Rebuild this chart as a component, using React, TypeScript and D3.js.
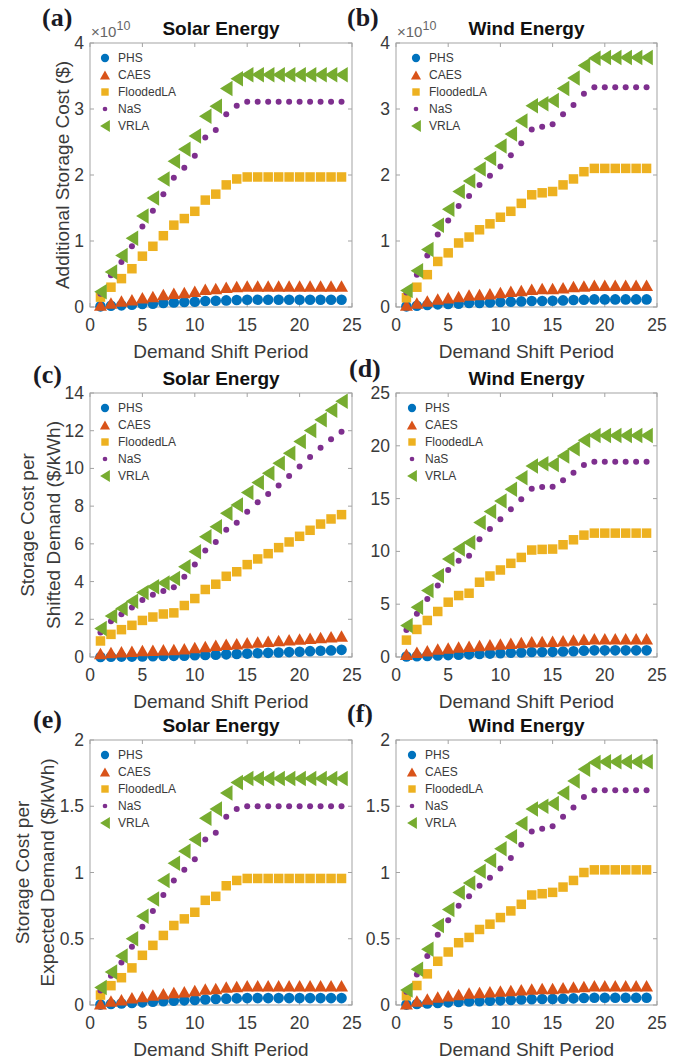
import React from "react";
import * as d3 from "d3";

// ---------- DATA ----------
const periods = [1, 2, 3, 4, 5, 6, 7, 8, 9, 10, 11, 12, 13, 14, 15, 16, 17, 18, 19, 20, 21, 22, 23, 24];
const seriesNames = ["PHS", "CAES", "FloodedLA", "NaS", "VRLA"];
const xTicks = [0, 5, 10, 15, 20, 25];

// (a) Solar – Additional storage cost (x1e10 $)
const solarCostPHS = [0.01, 0.02, 0.025, 0.035, 0.045, 0.05, 0.06, 0.07, 0.075, 0.08, 0.09, 0.095, 0.1, 0.105, 0.11, 0.11, 0.11, 0.11, 0.11, 0.11, 0.11, 0.11, 0.11, 0.11];
const solarCostCAES = [0.03, 0.06, 0.09, 0.11, 0.14, 0.16, 0.19, 0.21, 0.22, 0.24, 0.27, 0.28, 0.3, 0.31, 0.32, 0.32, 0.32, 0.32, 0.32, 0.32, 0.32, 0.32, 0.32, 0.32];
const solarCostFlooded = [0.15, 0.3, 0.43, 0.58, 0.77, 0.92, 1.08, 1.24, 1.34, 1.45, 1.62, 1.71, 1.85, 1.94, 1.97, 1.97, 1.97, 1.97, 1.97, 1.97, 1.97, 1.97, 1.97, 1.97];
const solarCostNaS = [0.2, 0.48, 0.68, 0.92, 1.22, 1.46, 1.71, 1.96, 2.11, 2.29, 2.57, 2.68, 2.92, 3.05, 3.11, 3.11, 3.11, 3.11, 3.11, 3.11, 3.11, 3.11, 3.11, 3.11];
const solarCostVRLA = [0.23, 0.53, 0.78, 1.04, 1.38, 1.65, 1.94, 2.21, 2.39, 2.59, 2.89, 3.04, 3.31, 3.46, 3.52, 3.52, 3.52, 3.52, 3.52, 3.52, 3.52, 3.52, 3.52, 3.52];

// (b) Wind – Additional storage cost (x1e10 $)
const windCostPHS = [0.01, 0.02, 0.03, 0.04, 0.045, 0.05, 0.06, 0.06, 0.07, 0.075, 0.08, 0.085, 0.09, 0.09, 0.095, 0.1, 0.105, 0.11, 0.115, 0.115, 0.115, 0.115, 0.115, 0.115];
const windCostCAES = [0.03, 0.06, 0.09, 0.12, 0.14, 0.16, 0.18, 0.19, 0.2, 0.22, 0.24, 0.25, 0.27, 0.28, 0.28, 0.29, 0.31, 0.32, 0.33, 0.33, 0.33, 0.33, 0.33, 0.33];
const windCostFlooded = [0.14, 0.3, 0.49, 0.69, 0.82, 0.97, 1.06, 1.17, 1.26, 1.36, 1.45, 1.57, 1.7, 1.73, 1.75, 1.85, 1.94, 2.05, 2.1, 2.1, 2.1, 2.1, 2.1, 2.1];
const windCostNaS = [0.22, 0.49, 0.78, 1.1, 1.31, 1.53, 1.68, 1.85, 1.99, 2.13, 2.3, 2.48, 2.69, 2.73, 2.77, 2.92, 3.06, 3.23, 3.33, 3.33, 3.33, 3.33, 3.33, 3.33];
const windCostVRLA = [0.25, 0.55, 0.87, 1.24, 1.48, 1.75, 1.91, 2.09, 2.25, 2.44, 2.62, 2.82, 3.05, 3.08, 3.13, 3.31, 3.47, 3.66, 3.77, 3.78, 3.78, 3.78, 3.78, 3.78];

// (c) Solar – Storage cost per shifted demand ($/kWh)
const solarShiftPHS = [0.0, 0.01, 0.02, 0.02, 0.03, 0.04, 0.05, 0.06, 0.07, 0.09, 0.11, 0.12, 0.14, 0.16, 0.18, 0.2, 0.22, 0.24, 0.26, 0.28, 0.31, 0.33, 0.35, 0.38];
const solarShiftCAES = [0.18, 0.24, 0.28, 0.3, 0.34, 0.36, 0.38, 0.4, 0.44, 0.5, 0.56, 0.62, 0.67, 0.7, 0.76, 0.8, 0.84, 0.88, 0.92, 0.96, 1.0, 1.04, 1.08, 1.12];
const solarShiftFlooded = [0.85, 1.2, 1.45, 1.68, 1.94, 2.12, 2.28, 2.34, 2.73, 3.1, 3.58, 3.86, 4.28, 4.52, 4.9, 5.2, 5.48, 5.8, 6.1, 6.4, 6.72, 7.05, 7.32, 7.55];
const solarShiftNaS = [1.3, 1.9, 2.27, 2.62, 3.02, 3.3, 3.5, 3.7, 4.26, 4.9, 5.65, 6.1, 6.75, 7.12, 7.7, 8.2, 8.65, 9.1, 9.6, 10.1, 10.6, 11.1, 11.55, 11.95];
const solarShiftVRLA = [1.51, 2.18, 2.57, 2.96, 3.42, 3.72, 3.93, 4.16, 4.78, 5.58, 6.38, 6.91, 7.62, 8.06, 8.72, 9.25, 9.75, 10.28, 10.81, 11.43, 12.01, 12.58, 13.08, 13.56];

// (d) Wind – Storage cost per shifted demand ($/kWh)
const windShiftPHS = [0.05, 0.07, 0.1, 0.14, 0.18, 0.22, 0.25, 0.29, 0.32, 0.36, 0.4, 0.43, 0.47, 0.48, 0.49, 0.52, 0.55, 0.6, 0.63, 0.63, 0.63, 0.63, 0.63, 0.63];
const windShiftCAES = [0.25, 0.45, 0.6, 0.75, 0.85, 0.95, 1.02, 1.1, 1.17, 1.24, 1.3, 1.37, 1.45, 1.47, 1.48, 1.53, 1.6, 1.67, 1.72, 1.72, 1.72, 1.72, 1.72, 1.72];
const windShiftFlooded = [1.6, 2.61, 3.46, 4.31, 5.19, 5.82, 6.04, 7.08, 7.67, 8.24, 8.87, 9.43, 10.13, 10.19, 10.22, 10.63, 11.1, 11.54, 11.73, 11.73, 11.73, 11.73, 11.73, 11.73];
const windShiftNaS = [2.55, 4.09, 5.5, 6.76, 8.24, 9.12, 9.59, 11.16, 12.11, 13.05, 13.99, 14.94, 15.94, 16.1, 16.13, 16.73, 17.45, 18.18, 18.49, 18.49, 18.49, 18.49, 18.49, 18.49];
const windShiftVRLA = [2.99, 4.72, 6.29, 7.7, 9.28, 10.22, 10.85, 12.74, 13.77, 14.78, 15.88, 16.98, 18.08, 18.3, 18.24, 19.03, 19.72, 20.53, 20.97, 20.97, 20.97, 20.97, 20.97, 20.97];

// (e) Solar – Storage cost per expected demand ($/kWh)
const solarExpPHS = [0.003, 0.007, 0.011, 0.015, 0.02, 0.024, 0.028, 0.032, 0.035, 0.038, 0.042, 0.045, 0.048, 0.05, 0.052, 0.052, 0.052, 0.052, 0.052, 0.052, 0.052, 0.052, 0.052, 0.052];
const solarExpCAES = [0.01, 0.03, 0.04, 0.055, 0.065, 0.075, 0.085, 0.095, 0.1, 0.11, 0.12, 0.125, 0.135, 0.14, 0.145, 0.145, 0.145, 0.145, 0.145, 0.145, 0.145, 0.145, 0.145, 0.145];
const solarExpFlooded = [0.075, 0.146, 0.206, 0.28, 0.375, 0.45, 0.525, 0.6, 0.65, 0.7, 0.79, 0.82, 0.9, 0.94, 0.955, 0.955, 0.955, 0.955, 0.955, 0.955, 0.955, 0.955, 0.955, 0.955];
const solarExpNaS = [0.11, 0.22, 0.32, 0.44, 0.59, 0.71, 0.83, 0.94, 1.02, 1.1, 1.25, 1.3, 1.42, 1.48, 1.5, 1.5, 1.5, 1.5, 1.5, 1.5, 1.5, 1.5, 1.5, 1.5];
const solarExpVRLA = [0.133, 0.25, 0.37, 0.5, 0.67, 0.8, 0.94, 1.07, 1.16, 1.25, 1.41, 1.48, 1.6, 1.68, 1.71, 1.71, 1.71, 1.71, 1.71, 1.71, 1.71, 1.71, 1.71, 1.71];

// (f) Wind – Storage cost per expected demand ($/kWh)
const windExpPHS = [0.003, 0.007, 0.012, 0.016, 0.02, 0.023, 0.026, 0.029, 0.032, 0.035, 0.038, 0.041, 0.044, 0.045, 0.046, 0.048, 0.05, 0.053, 0.055, 0.055, 0.055, 0.055, 0.055, 0.055];
const windExpCAES = [0.01, 0.03, 0.045, 0.06, 0.07, 0.08, 0.09, 0.095, 0.1, 0.105, 0.11, 0.115, 0.12, 0.125, 0.125, 0.13, 0.135, 0.14, 0.145, 0.145, 0.145, 0.145, 0.145, 0.145];
const windExpFlooded = [0.07, 0.147, 0.235, 0.33, 0.4, 0.47, 0.51, 0.57, 0.61, 0.66, 0.71, 0.76, 0.83, 0.84, 0.85, 0.89, 0.94, 1.0, 1.02, 1.02, 1.02, 1.02, 1.02, 1.02];
const windExpNaS = [0.1, 0.23, 0.37, 0.53, 0.64, 0.75, 0.82, 0.9, 0.96, 1.03, 1.11, 1.21, 1.31, 1.33, 1.35, 1.42, 1.49, 1.57, 1.62, 1.62, 1.62, 1.62, 1.62, 1.62];
const windExpVRLA = [0.114, 0.27, 0.42, 0.6, 0.72, 0.85, 0.92, 1.01, 1.09, 1.18, 1.27, 1.37, 1.48, 1.5, 1.52, 1.6, 1.69, 1.78, 1.83, 1.835, 1.835, 1.835, 1.835, 1.835];

const ticksCost = [0, 1, 2, 3, 4];
const ticksSolarShift = [0, 2, 4, 6, 8, 10, 12, 14];
const ticksWindShift = [0, 5, 10, 15, 20, 25];
const ticksExp = [0, 0.5, 1, 1.5, 2];

// ---------- STYLE / LAYOUT ----------
const COLORS: Record<string, string> = {
  PHS: "#0072BD",
  CAES: "#D95319",
  FloodedLA: "#EDB120",
  NaS: "#7E2F8E",
  VRLA: "#77AC30",
};
const SANS = "'Liberation Sans', Arial, Helvetica, sans-serif";
const SERIF = "'Liberation Serif', 'Times New Roman', serif";
const AXIS_COLOR = "#a3a3a3";
const TEXT_COLOR = "#3a3a3a";

const colX = [
  [90, 352],
  [396, 657],
];
const rowY = [
  [43, 307],
  [393, 657],
  [740, 1005],
];

type Panel = {
  label: string;
  col: number;
  row: number;
  title: string;
  yMax: number;
  yTicks: number[];
  yLabel: string[];
  yLabelX: number[];
  exponent: boolean;
  labelX: number;
  labelY: number;
  legendDx: number;
  data: number[][];
};

const panels: Panel[] = [
  { label: "(a)", col: 0, row: 0, title: "Solar Energy", yMax: 4, yTicks: ticksCost, yLabel: ["Additional Storage Cost ($)"], yLabelX: [62], exponent: true, labelX: 42, labelY: 26, legendDx: 15, data: [solarCostPHS, solarCostCAES, solarCostFlooded, solarCostNaS, solarCostVRLA] },
  { label: "(b)", col: 1, row: 0, title: "Wind Energy", yMax: 4, yTicks: ticksCost, yLabel: [], yLabelX: [], exponent: true, labelX: 347, labelY: 26, legendDx: 20, data: [windCostPHS, windCostCAES, windCostFlooded, windCostNaS, windCostVRLA] },
  { label: "(c)", col: 0, row: 1, title: "Solar Energy", yMax: 14, yTicks: ticksSolarShift, yLabel: ["Storage Cost per", "Shifted Demand ($/kWh)"], yLabelX: [27, 53], exponent: false, labelX: 33, labelY: 383, legendDx: 15, data: [solarShiftPHS, solarShiftCAES, solarShiftFlooded, solarShiftNaS, solarShiftVRLA] },
  { label: "(d)", col: 1, row: 1, title: "Wind Energy", yMax: 25, yTicks: ticksWindShift, yLabel: [], yLabelX: [], exponent: false, labelX: 349, labelY: 377, legendDx: 16, data: [windShiftPHS, windShiftCAES, windShiftFlooded, windShiftNaS, windShiftVRLA] },
  { label: "(e)", col: 0, row: 2, title: "Solar Energy", yMax: 2, yTicks: ticksExp, yLabel: ["Storage Cost per", "Expected Demand ($/kWh)"], yLabelX: [22, 47], exponent: false, labelX: 33, labelY: 728, legendDx: 15, data: [solarExpPHS, solarExpCAES, solarExpFlooded, solarExpNaS, solarExpVRLA] },
  { label: "(f)", col: 1, row: 2, title: "Wind Energy", yMax: 2, yTicks: ticksExp, yLabel: [], yLabelX: [], exponent: false, labelX: 347, labelY: 722, legendDx: 16, data: [windExpPHS, windExpCAES, windExpFlooded, windExpNaS, windExpVRLA] },
];

function Marker({ name, x, y, legend }: { name: string; x: number; y: number; legend?: boolean }) {
  const c = COLORS[name];
  const k = legend ? 0.78 : 1;
  if (name === "PHS") return <circle cx={x} cy={y} r={5.3 * k} fill={c} />;
  if (name === "NaS") return <circle cx={x} cy={y} r={3 * k} fill={c} />;
  if (name === "FloodedLA") {
    const s = 9.5 * k;
    return <rect x={x - s / 2} y={y - s / 2} width={s} height={s} fill={c} />;
  }
  if (name === "CAES") {
    const w = 13 * k, h = 11.5 * k;
    return <path d={`M${x},${y - h / 2}L${x + w / 2},${y + h / 2}L${x - w / 2},${y + h / 2}Z`} fill={c} />;
  }
  // VRLA left-pointing triangle
  const w = 12.5 * k, h = 15.5 * k;
  return <path d={`M${x - w / 2},${y}L${x + w / 2},${y - h / 2}L${x + w / 2},${y + h / 2}Z`} fill={c} />;
}

function PanelView({ p }: { p: Panel }) {
  const [x0, x1] = colX[p.col];
  const [y0, y1] = rowY[p.row];
  const xs = d3.scaleLinear().domain([0, 25]).range([x0, x1]);
  const ys = d3.scaleLinear().domain([0, p.yMax]).range([y1, y0]);
  const cx = (x0 + x1) / 2;
  const cy = (y0 + y1) / 2;
  const tl = 4;
  return (
    <g>
      <rect x={x0} y={y0} width={x1 - x0} height={y1 - y0} fill="#fff" stroke={AXIS_COLOR} strokeWidth={1} />
      {xTicks.map((t) => (
        <g key={"x" + t}>
          <line x1={xs(t)} x2={xs(t)} y1={y1} y2={y1 - tl} stroke={AXIS_COLOR} />
          <line x1={xs(t)} x2={xs(t)} y1={y0} y2={y0 + tl} stroke={AXIS_COLOR} />
          <text x={xs(t)} y={y1 + 24} textAnchor="middle" fontSize={17.5} fill={TEXT_COLOR} fontFamily={SANS}>
            {t}
          </text>
        </g>
      ))}
      {p.yTicks.map((t) => (
        <g key={"y" + t}>
          <line x1={x0} x2={x0 + tl} y1={ys(t)} y2={ys(t)} stroke={AXIS_COLOR} />
          <line x1={x1} x2={x1 - tl} y1={ys(t)} y2={ys(t)} stroke={AXIS_COLOR} />
          <text x={x0 - 6} y={ys(t) + 6} textAnchor="end" fontSize={17.5} fill={TEXT_COLOR} fontFamily={SANS}>
            {String(t)}
          </text>
        </g>
      ))}
      {p.exponent && (
        <text x={x0 + 1} y={y0 - 6} fontSize={15} fill="#666" fontFamily={SANS}>
          ×10
          <tspan dy={-7} fontSize={12.5}>10</tspan>
        </text>
      )}
      <text x={cx} y={y0 - 8} textAnchor="middle" fontSize={19} fontWeight="bold" fill="#111" fontFamily={SANS}>
        {p.title}
      </text>
      <text x={cx} y={y1 + 51} textAnchor="middle" fontSize={19} fill={TEXT_COLOR} fontFamily={SANS}>
        Demand Shift Period
      </text>
      {p.yLabel.map((s, i) => (
        <text
          key={s}
          transform={`translate(${p.yLabelX[i]},${cy}) rotate(-90)`}
          textAnchor="middle"
          dominantBaseline="central"
          fontSize={19}
          fill={TEXT_COLOR}
          fontFamily={SANS}
        >
          {s}
        </text>
      ))}
      <text x={p.labelX} y={p.labelY} fontSize={26} fontWeight="bold" fill="#1a1a24" fontFamily={SERIF}>
        {p.label}
      </text>
      {seriesNames.map((name, si) => (
        <g key={name}>
          {periods.map((d, i) => (
            <Marker key={i} name={name} x={xs(d)} y={ys(p.data[si][i])} />
          ))}
        </g>
      ))}
      {seriesNames.map((name, si) => {
        const ly = y0 + 15 + si * 17;
        const lx = x0 + p.legendDx;
        return (
          <g key={"lg" + name}>
            <Marker name={name} x={lx} y={ly} legend />
            <text x={lx + 13} y={ly} dominantBaseline="central" fontSize={12} fill={TEXT_COLOR} fontFamily={SANS}>
              {name}
            </text>
          </g>
        );
      })}
    </g>
  );
}

export default function App() {
  return (
    <svg
      width={688}
      height={1061}
      viewBox="0 0 688 1061"
      style={{ position: "absolute", left: 0, top: 0, background: "#fff", display: "block" }}
    >
      <rect x={0} y={0} width={688} height={1061} fill="#fff" />
      {panels.map((p) => (
        <PanelView key={p.label} p={p} />
      ))}
    </svg>
  );
}
